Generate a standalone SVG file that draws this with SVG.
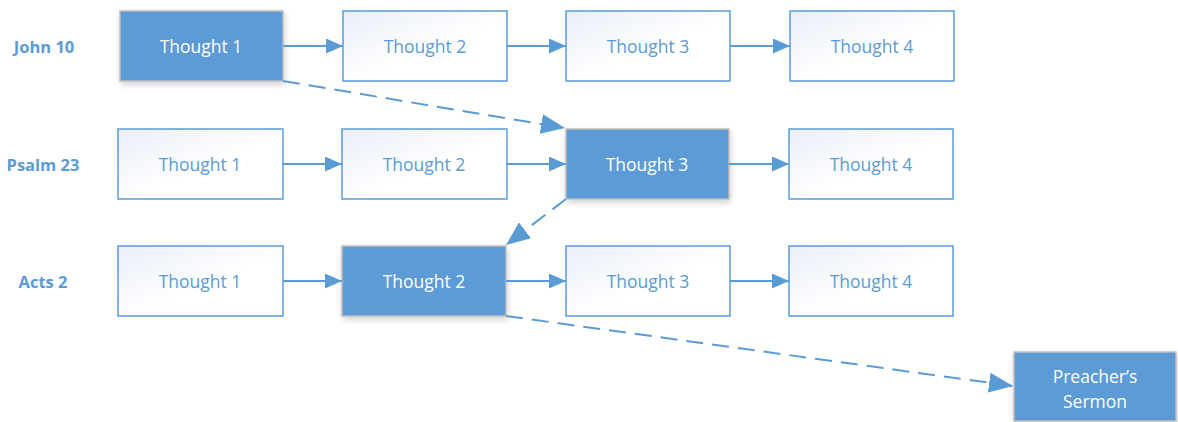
<svg xmlns="http://www.w3.org/2000/svg" width="1178" height="422" viewBox="0 0 1178 422">
<defs>
<linearGradient id="g" x1="0" y1="0" x2="1" y2="1">
<stop offset="0" stop-color="#E9EEF8"/>
<stop offset="0.55" stop-color="#FFFFFF"/>
</linearGradient>
<filter id="sh" x="-10%" y="-10%" width="125%" height="135%">
<feGaussianBlur in="SourceAlpha" stdDeviation="3"/>
<feOffset dx="1" dy="3"/>
<feComponentTransfer><feFuncA type="linear" slope="0.18"/></feComponentTransfer>
<feMerge><feMergeNode/><feMergeNode in="SourceGraphic"/></feMerge>
</filter>
<marker id="ah" markerWidth="17" markerHeight="15" refX="17" refY="7.5" orient="auto" markerUnits="userSpaceOnUse">
<path d="M0,0 L17,7.5 L0,15 Z" fill="#5B9BD5"/>
</marker>
<marker id="ahd" markerWidth="24" markerHeight="20" refX="24" refY="10" orient="auto" markerUnits="userSpaceOnUse">
<path d="M0,0 L24,10 L0,20 Z" fill="#5B9BD5"/>
</marker>
</defs>
<style>
.lbl{font-family:"Open Sans","Liberation Sans",sans-serif;font-size:16.5px;font-weight:bold;fill:#5B9BD5;text-anchor:middle;dominant-baseline:central}
.b rect{fill:url(#g);stroke:#5B9BD5;stroke-width:1.5}
.b text{font-family:"Open Sans","Liberation Sans",sans-serif;font-size:17.5px;fill:#5B9BD5;text-anchor:middle;dominant-baseline:central}
.f rect{fill:#5B9BD5;stroke:#BFBFBF;stroke-width:1.5;filter:url(#sh)}
.f text{font-family:"Open Sans","Liberation Sans",sans-serif;font-size:17.5px;fill:#FFFFFF;text-anchor:middle;dominant-baseline:central}
.c line{stroke:#5B9BD5;stroke-width:2;fill:none;marker-end:url(#ah)}
.c .d{stroke-dasharray:17 9;marker-end:url(#ahd)}
</style>
<g id="labels">
<text class="lbl" x="44" y="46">John 10</text>
<text class="lbl" x="43" y="164">Psalm 23</text>
<text class="lbl" x="43" y="281">Acts 2</text>
</g>
<g id="r1n1" class="f"><rect x="120" y="11" width="163" height="70"/><text x="201" y="46">Thought 1</text></g>
<g id="r1n2" class="b"><rect x="343" y="11" width="164" height="70"/><text x="425" y="46">Thought 2</text></g>
<g id="r1n3" class="b"><rect x="566" y="11" width="164" height="70"/><text x="648" y="46">Thought 3</text></g>
<g id="r1n4" class="b"><rect x="790" y="11" width="164" height="70"/><text x="872" y="46">Thought 4</text></g>
<g id="r2n1" class="b"><rect x="118" y="129" width="165" height="70"/><text x="200" y="164">Thought 1</text></g>
<g id="r2n2" class="b"><rect x="342" y="129" width="165" height="70"/><text x="424" y="164">Thought 2</text></g>
<g id="r2n3" class="f"><rect x="566" y="129" width="163" height="70"/><text x="647" y="164">Thought 3</text></g>
<g id="r2n4" class="b"><rect x="789" y="129" width="164" height="70"/><text x="871" y="164">Thought 4</text></g>
<g id="r3n1" class="b"><rect x="118" y="246" width="165" height="70"/><text x="200" y="281">Thought 1</text></g>
<g id="r3n2" class="f"><rect x="342" y="246" width="164" height="70"/><text x="424" y="281">Thought 2</text></g>
<g id="r3n3" class="b"><rect x="566" y="246" width="164" height="70"/><text x="648" y="281">Thought 3</text></g>
<g id="r3n4" class="b"><rect x="789" y="246" width="164" height="70"/><text x="871" y="281">Thought 4</text></g>
<g id="sermon" class="f"><rect x="1014" y="352" width="162" height="69"/><text x="1095" y="376">Preacher’s</text><text x="1095" y="401">Sermon</text></g>
<g id="connectors" class="c">
<line x1="283" y1="46" x2="343" y2="46"/>
<line x1="507" y1="46" x2="566" y2="46"/>
<line x1="730" y1="46" x2="790" y2="46"/>
<line x1="283" y1="164" x2="342" y2="164"/>
<line x1="507" y1="164" x2="566" y2="164"/>
<line x1="729" y1="164" x2="789" y2="164"/>
<line x1="283" y1="281" x2="342" y2="281"/>
<line x1="506" y1="281" x2="566" y2="281"/>
<line x1="730" y1="281" x2="789" y2="281"/>
<line class="d" x1="283" y1="81" x2="565" y2="128"/>
<line class="d" x1="566" y1="199" x2="506" y2="245"/>
<line class="d" x1="506" y1="316" x2="1013" y2="386"/>
</g>
</svg>
